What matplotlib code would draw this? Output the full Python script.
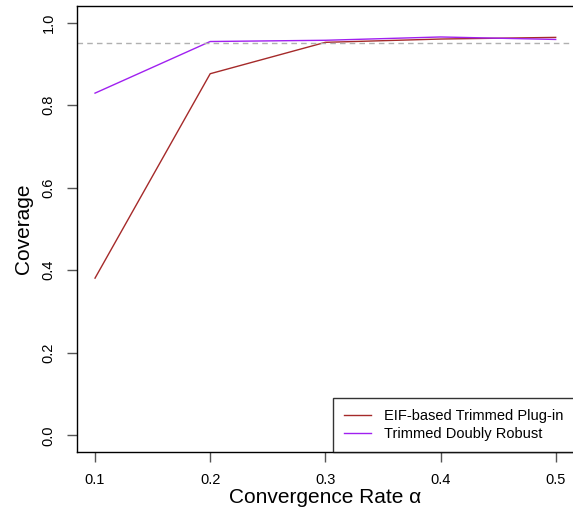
import matplotlib
matplotlib.use('Agg')
import matplotlib.pyplot as plt

plt.rcParams['font.family'] = ['Liberation Sans', 'DejaVu Sans']

rates = [0.1, 0.2, 0.3, 0.4, 0.5]
plugin_cov = [0.381, 0.876, 0.952, 0.960, 0.964]
dr_cov = [0.829, 0.954, 0.957, 0.965, 0.959]
nominal = 0.95

W, H = 573, 513
fig = plt.figure(figsize=(W / 100, H / 100), dpi=100)
left, right, top, bottom = 76.6, 574.1, 6, 452
ax = fig.add_axes([left / W, (H - bottom) / H, (right - left) / W, (bottom - top) / H])

ax.plot(rates, plugin_cov, color='#A52A2A', lw=1, label='EIF-based Trimmed Plug-in')
ax.plot(rates, dr_cov, color='#A020F0', lw=1, label='Trimmed Doubly Robust')
ax.axhline(nominal, color='#B0B0B0', lw=1, ls=(0, (4, 3)))

ax.set_xlim(0.084, 0.516)
ax.set_ylim(-0.04, 1.04)
ax.set_xticks(rates)
ax.set_xticklabels(['0.1', '0.2', '0.3', '0.4', '0.5'])
ax.set_yticks([0.0, 0.2, 0.4, 0.6, 0.8, 1.0])
ax.set_yticklabels(['0.0', '0.2', '0.4', '0.6', '0.8', '1.0'], rotation=90, va='center')
ax.tick_params(direction='out', length=7, width=1, color='#555555', labelsize=10.5, pad=8)
for s in ax.spines.values():
    s.set_linewidth(1)

ax.set_xlabel('Convergence Rate α', fontsize=15, labelpad=1)
ax.set_ylabel('Coverage', fontsize=15, labelpad=6)

leg = ax.legend(loc='lower right', borderaxespad=0, fancybox=False, edgecolor='black',
                fontsize=10.5, handlelength=1.8, handletextpad=0.9, borderpad=0.75,
                labelspacing=0.25)
leg.get_frame().set_linewidth(1)

fig.savefig('out.png', dpi=100)
